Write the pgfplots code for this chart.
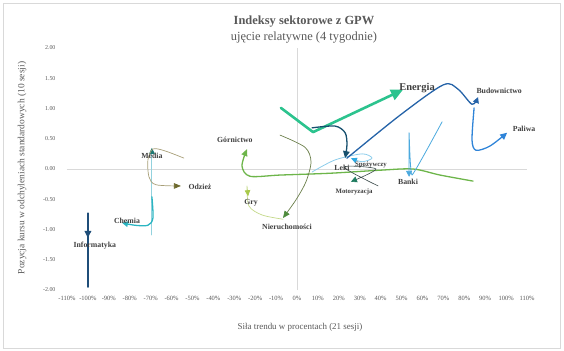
\documentclass[border=0pt]{standalone}
\usepackage{fontspec}
\setmainfont{Liberation Serif}
\usepackage{pgfplots}
\pgfplotsset{compat=1.18}
\usetikzlibrary{arrows.meta}
\definecolor{txt}{HTML}{595959}
\definecolor{lbl}{HTML}{404040}
\definecolor{zero}{HTML}{D9D9D9}
\definecolor{cInf}{HTML}{1F4E79}
\definecolor{cChem}{HTML}{2BB5C2}
\definecolor{cMedL}{HTML}{93D2DE}
\definecolor{cMedA}{HTML}{1D7874}
\definecolor{cOdzL}{HTML}{A89F78}
\definecolor{cOdzA}{HTML}{6E6A2E}
\definecolor{cGor}{HTML}{6DB54A}
\definecolor{cGryL}{HTML}{C4D98A}
\definecolor{cGryA}{HTML}{A8C94A}
\definecolor{cNieL}{HTML}{6B7F4B}
\definecolor{cNieA}{HTML}{4E8C3C}
\definecolor{cEne}{HTML}{2CC38E}
\definecolor{cLek}{HTML}{17506E}
\definecolor{cBud}{HTML}{2563A8}
\definecolor{cPal}{HTML}{2F84D8}
\definecolor{cBan}{HTML}{4BA9DE}
\definecolor{cSpoL}{HTML}{8CCDEB}
\definecolor{cSpoA}{HTML}{2EA9E3}
\definecolor{cMotL}{HTML}{3A4A4A}
\definecolor{cMotA}{HTML}{1E7B5F}
\begin{document}
\begin{tikzpicture}
\begin{axis}[
  scale only axis, width=460bp, height=242bp,
  xmin=-110, xmax=110, ymin=-2, ymax=2,
  axis line style={draw=none},
  tick style={draw=none},
  xtick={-110,-100,...,110},
  ytick={-2,-1.5,-1,-0.5,0,0.5,1,1.5,2},
  xticklabel={\pgfmathprintnumber[assume math mode=true]{\tick}\%},
  yticklabel style={/pgf/number format/fixed, /pgf/number format/fixed zerofill, /pgf/number format/precision=2, /pgf/number format/assume math mode=true},
  xticklabel style={font=\fontsize{6.5}{7}\selectfont, text=txt, yshift=-3bp},
  yticklabel style={font=\fontsize{6}{7}\selectfont, text=txt, xshift=-8bp},
  clip=false,
  every axis plot/.append style={line cap=round, line join=round},
]
% frame and bounding box
\path (rel axis cs:0,0) ++(-67bp,-61bp) rectangle ++(564bp,351bp);
\draw[zero, line width=0.6bp] (rel axis cs:0,0) ++(-64bp,-58bp) rectangle ++(557bp,345bp);
% zero lines
\draw[zero, line width=0.7bp] (axis cs:-110,0) -- (axis cs:110,0);
\draw[zero, line width=0.7bp] (axis cs:0,-2) -- (axis cs:0,2);
% titles
\node[font=\bfseries\fontsize{12.5}{14}\selectfont, text=txt] at ([shift={(237bp,268bp)}]rel axis cs:0,0) {Indeksy sektorowe z GPW};
\node[font=\fontsize{12.5}{14}\selectfont, text=txt] at ([shift={(237bp,252bp)}]rel axis cs:0,0) {ujęcie relatywne (4 tygodnie)};
\node[font=\fontsize{9}{10}\selectfont, text=txt] at ([shift={(233bp,-37bp)}]rel axis cs:0,0) {Siła trendu w procentach (21 sesji)};
\node[font=\fontsize{9.5}{10}\selectfont, text=txt, rotate=90] at ([shift={(-45bp,122bp)}]rel axis cs:0,0) {Pozycja kursu w odchyleniach standardowych (10 sesji)};

% Górnictwo
\addplot[cGor, line width=1.3bp, smooth, -{Triangle[length=7bp,width=6bp]}] coordinates {
 (84.2,-0.20) (68.4,-0.10) (55.5,0.0) (39.7,-0.02) (15.8,-0.07) (-8.1,-0.10) (-22.5,-0.12) (-26.3,0.05) (-23.9,0.33)};
% Informatyka
\addplot[cInf, line width=1.6bp, -{Triangle[length=7bp,width=6.5bp]}] coordinates {
 (-100,-1.95) (-100,-0.73) (-100,-1.14)};
% Media
\addplot[cMedL, line width=1bp, -{Triangle[length=6bp,width=5.5bp,color=cMedA]}] coordinates {
 (-69.4,-1.09) (-69.4,0.35)};
% Chemia
\addplot[cChem, line width=1.3bp, smooth, -{Triangle[length=6bp,width=5.5bp]}] coordinates {
 (-69.4,-0.46) (-68.9,-0.81) (-71.3,-0.93) (-77.5,-0.93) (-83.7,-0.89)};
% Odzież
\addplot[cOdzL, line width=0.7bp, smooth, -{Triangle[length=7bp,width=5.5bp,color=cOdzA]}] coordinates {
 (-54.1,0.18) (-63.2,0.30) (-68.9,0.33) (-71.3,0.15) (-70.8,-0.13) (-67.5,-0.26) (-55.5,-0.28)};
% Nieruchomości
\addplot[cNieL, line width=0.7bp, smooth, -{Triangle[length=7bp,width=6bp,color=cNieA]}] coordinates {
 (-8.1,0.56) (3.8,0.36) (6.7,0.12) (4.3,-0.21) (-0.5,-0.51) (-6.7,-0.81)};
% Gry
\addplot[cGryL, line width=0.7bp, smooth, -{Triangle[length=6bp,width=5.5bp,color=cGryA]}] coordinates {
 (-6.7,-0.83) (-16.7,-0.76) (-23,-0.61) (-23.9,-0.28) (-23.4,-0.45)};
% Energia
\addplot[cEne, line width=2.6bp, -{Triangle[length=12bp,width=11bp]}] coordinates {
 (-7.7,1.01) (7.7,0.61) (50.7,1.31)};
% Spożywczy
\addplot[cSpoL, line width=0.8bp, smooth, -{Triangle[length=6bp,width=5.5bp,color=cSpoA]}] coordinates {
 (7.2,-0.05) (18.2,0.15) (31.1,0.25) (35.9,0.18) (31.1,0.12) (25.8,0.18)};
% Motoryzacja
\addplot[cMotL, line width=0.6bp, smooth, -{Triangle[length=6bp,width=6bp,color=cMotA]}] coordinates {
 (38.8,-0.28) (22.5,0.03) (37.8,0.0) (25.8,-0.21)};
% Leki
\addplot[cLek, line width=1.3bp, smooth, -{Triangle[length=7bp,width=6.5bp]}] coordinates {
 (7.2,0.68) (18.2,0.71) (23,0.60) (23.9,0.40) (23,0.18)};
% Budownictwo
\addplot[cBud, line width=1.3bp, smooth, -{Triangle[length=6bp,width=6bp]}] coordinates {
 (23.9,0.18) (49.3,0.89) (69.9,1.39) (77,1.32) (83.7,1.07) (86.6,1.19)};
% Paliwa
\addplot[cPal, line width=1.3bp, smooth, -{Triangle[length=7bp,width=6.5bp]}] coordinates {
 (84.7,1.01) (83.7,0.48) (85.6,0.31) (92.3,0.38) (100.5,0.60)};
% Banki
\addplot[cBan, line width=0.8bp, smooth, tension=0.2, -{Triangle[length=6bp,width=6bp]}] coordinates {
 (69.4,0.78) (55,-0.10) (53.6,0.60) (53.6,-0.13)};

% labels
\begin{scope}[every node/.style={font=\bfseries\fontsize{7.8}{8}\selectfont, text=lbl, inner sep=0pt}]
\node at (axis cs:-96.7,-1.26) {Informatyka};
\node at (axis cs:-81.3,-0.86) {Chemia};
\node at (axis cs:-69.4,0.21) {Media};
\node at (axis cs:-46.4,-0.30) {Odzież};
\node at (axis cs:-29.7,0.48) {Górnictwo};
\node at (axis cs:-22,-0.55) {Gry};
\node at (axis cs:-4.8,-0.96) {Nieruchomości};
\node[font=\bfseries\fontsize{10.5}{11}\selectfont] at (axis cs:57.4,1.34) {Energia};
\node at (axis cs:96.7,1.29) {Budownictwo};
\node at (axis cs:108.6,0.66) {Paliwa};
\node at (axis cs:53.1,-0.21) {Banki};
\node at (axis cs:21.5,0.02) {Leki};
\node[font=\bfseries\fontsize{6.8}{7}\selectfont] at (axis cs:35.4,0.07) {Spożywczy};
\node[font=\bfseries\fontsize{6.8}{7}\selectfont] at (axis cs:27.3,-0.38) {Motoryzacja};
\end{scope}
\end{axis}
\end{tikzpicture}
\end{document}
